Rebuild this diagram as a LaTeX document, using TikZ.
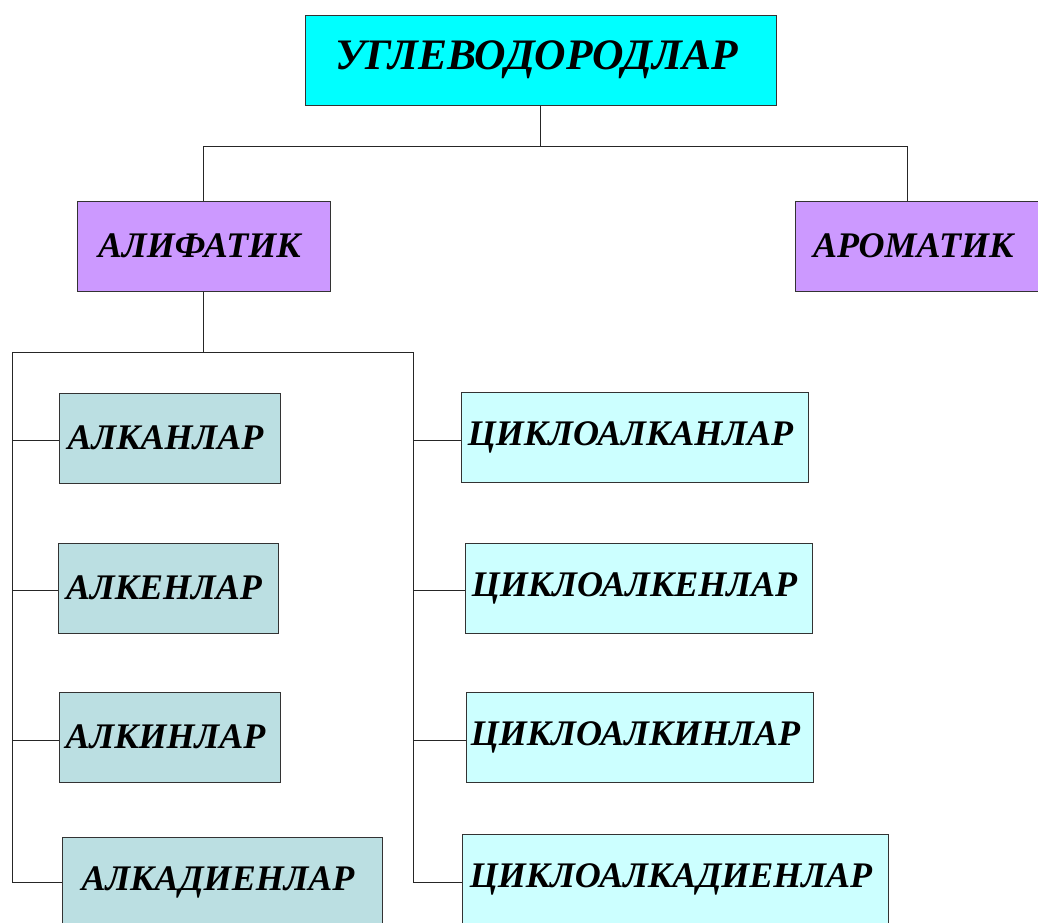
\documentclass[tikz,border=0pt]{standalone}
\usepackage{fontspec}
\setmainfont{Liberation Serif}
\usetikzlibrary{positioning}

\definecolor{topcyan}{RGB}{0,255,255}
\definecolor{violet1}{RGB}{204,153,255}
\definecolor{teal1}{RGB}{187,223,226}
\definecolor{cyan1}{RGB}{204,255,255}

\tikzset{
  box/.style={draw=black!80, line width=1pt, inner sep=0pt, minimum height=90pt,
    font=\fontsize{36}{40}\selectfont\bfseries\itshape,
    execute at end node=\hspace*{8pt}},
  link/.style={draw=black!85, line width=0.9pt}
}

\begin{document}
\begin{tikzpicture}[x=1pt,y=-1pt]
\useasboundingbox (0,0) rectangle (1038,922);
% Top level
\node[box, fill=topcyan, minimum width=471pt, font=\fontsize{43.5}{46}\selectfont\bfseries\itshape] (ugl) at (540.5,60) {УГЛЕВОДОРОДЛАР};
% Second level
\node[box, fill=violet1, minimum width=253pt] (alif) at (203.5,246) {АЛИФАТИК};
\node[box, fill=violet1, minimum width=250pt, text width=232pt, align=left] (arom) at (920,246) {\hspace*{9pt}АРОМАТИК};
\coordinate (aromtop) at (907,201);
% Aliphatic subclasses, left column
\foreach \n/\t/\x/\y/\w in {alkan/АЛКАНЛАР/169.5/438/221, alken/АЛКЕНЛАР/168/588/220,
    alkin/АЛКИНЛАР/169.5/737/221, alkad/АЛКАДИЕНЛАР/222/882/320} {
  \node[box, fill=teal1, minimum width=\w pt] (\n) at (\x,\y) {\t};
}
% Cyclic subclasses, right column
\foreach \n/\t/\x/\y/\w in {calkan/ЦИКЛОАЛКАНЛАР/634.5/437/347, calken/ЦИКЛОАЛКЕНЛАР/638.5/588/347,
    calkin/ЦИКЛОАЛКИНЛАР/639.5/737/347, calkad/ЦИКЛОАЛКАДИЕНЛАР/675/879/426} {
  \node[box, fill=cyan1, minimum width=\w pt] (\n) at (\x,\y) {\t};
}
% Connectors, top
\draw[link] (ugl.south) -- ++(0,41) coordinate (hub1);
\draw[link] (alif.north) |- (hub1) -| (aromtop);
% Connectors, buses
\draw[link] (alif.south) -- ++(0,61) coordinate (hub2);
\coordinate (lbus) at (12,352);
\coordinate (rbus) at (413,352);
\draw[link] (lbus |- 0,882) -- (lbus) -- (rbus) -- (rbus |- 0,882);
\foreach \n/\y in {alkan/440,alken/590,alkin/740,alkad/882} {
  \draw[link] (lbus |- 0,\y) -- (\n.west |- 0,\y);
}
\foreach \n/\y in {calkan/440,calken/590,calkin/740,calkad/882} {
  \draw[link] (rbus |- 0,\y) -- (\n.west |- 0,\y);
}
\end{tikzpicture}
\end{document}
